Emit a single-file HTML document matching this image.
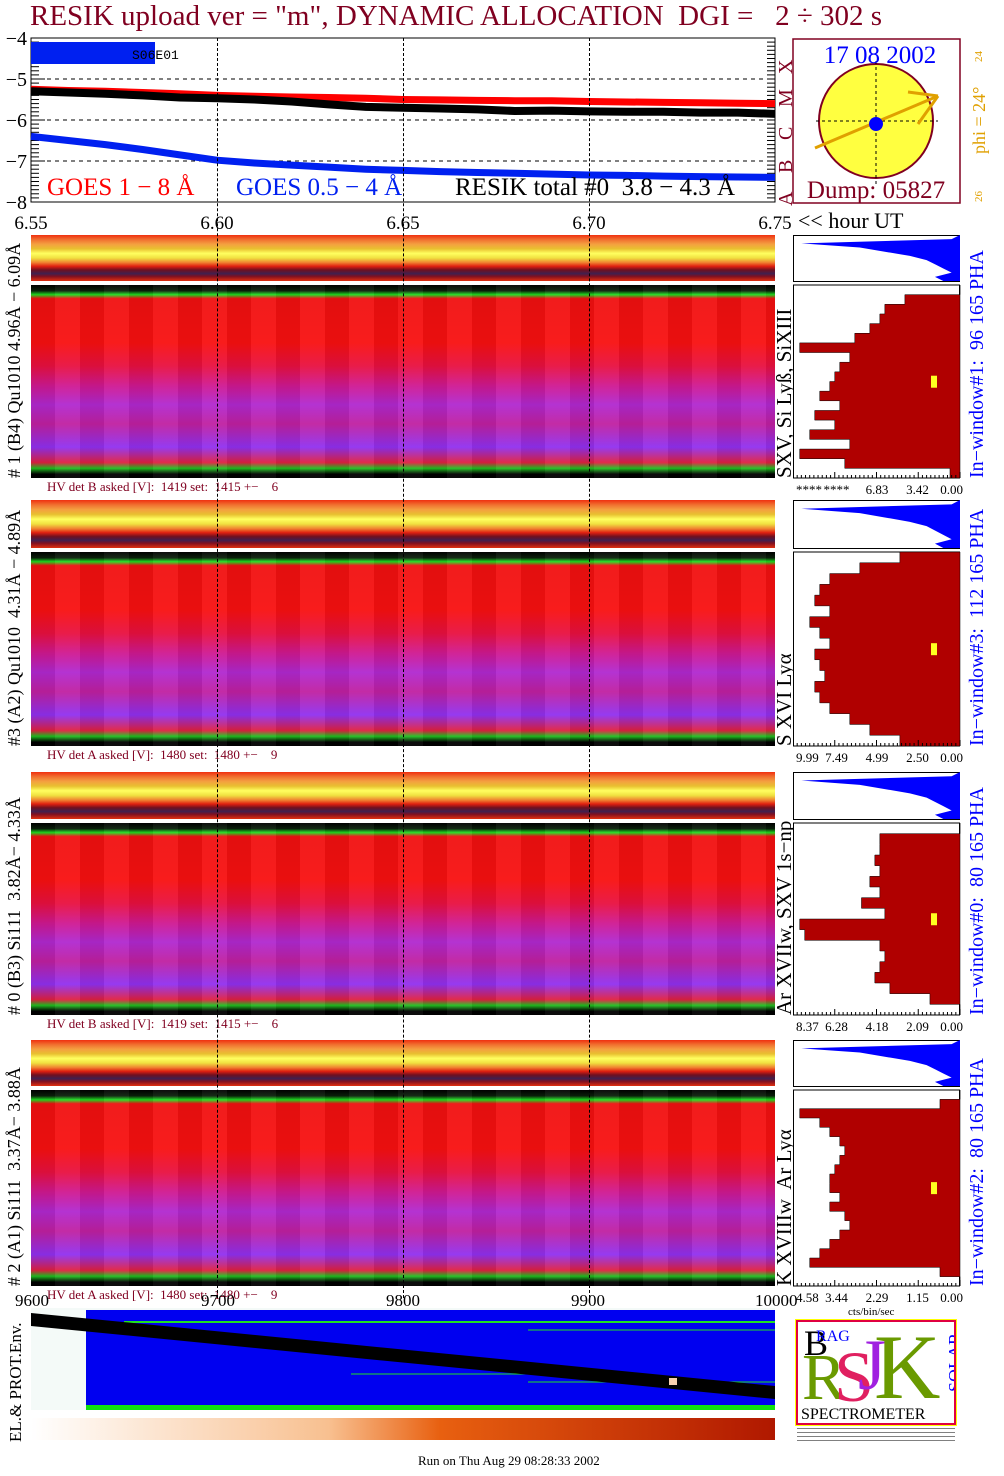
<!DOCTYPE html>
<html><head><meta charset="utf-8">
<style>
body{margin:0;background:#fff;width:1004px;height:1476px;overflow:hidden;position:relative;font-family:"Liberation Serif",serif}
.abs{position:absolute}
.strip{position:absolute;left:31px;width:744px;background:linear-gradient(180deg,#f03010 0%,#f07030 10%,#f4a040 20%,#e8c030 30%,#ffff60 40%,#f0e040 50%,#f08030 60%,#e02010 68%,#701020 76%,#402050 84%,#801020 90%,#e03010 100%)}
.main{position:absolute;left:31px;width:744px;background:linear-gradient(180deg,#000 0%,#0a200a 3%,#20e020 5%,#f01010 7%,#f81010 30%,#e81040 42%,#d01890 52%,#b028d0 62%,#c020a0 72%,#9030f0 84%,#e02040 92%,#20c020 95%,#000 98%,#000 100%)}
.tex{position:absolute;left:0;top:0;right:0;bottom:0;background:repeating-linear-gradient(90deg,rgba(0,0,0,0.06) 0 24px,rgba(255,255,255,0.05) 24px 49px)}
.hv{position:absolute;left:47px;font-size:13px;color:#800020;white-space:pre}
.rot{position:absolute;transform-origin:0 0;transform:rotate(-90deg);white-space:pre}
.vg{position:absolute;width:0;border-left:1px dashed #000;top:38px;height:1260px}
</style></head><body>
<div class="abs" style="left:30px;top:0px;font-size:29px;color:#800020;white-space:nowrap">RESIK upload ver = "m", DYNAMIC ALLOCATION&nbsp; DGI =&nbsp;&nbsp; 2 ÷ 302 s</div>

<svg class="abs" style="left:0;top:30px" width="1004" height="210" id="topsvg"></svg>

<div class="abs" style="left:798px;top:208px;font-size:22px">&lt;&lt; hour UT</div>

<svg class="abs" style="left:790px;top:36px" width="214" height="170">
<rect x="3" y="3" width="167" height="164" fill="#fff" stroke="#800020" stroke-width="1.5"/>
<circle cx="86" cy="85" r="57" fill="#ffff40" stroke="#800020" stroke-width="2"/>
<line x1="26" y1="85" x2="148" y2="85" stroke="#000" stroke-dasharray="3,3"/>
<line x1="86" y1="25" x2="86" y2="150" stroke="#000" stroke-dasharray="3,3"/>
<line x1="25" y1="112" x2="148" y2="60" stroke="#e0a000" stroke-width="3"/>
<line x1="118" y1="56" x2="148" y2="60" stroke="#e0a000" stroke-width="3"/>
<line x1="128" y1="88" x2="148" y2="60" stroke="#e0a000" stroke-width="3"/>
<circle cx="86" cy="88" r="7" fill="#0000ff"/>
<text x="90" y="27" font-size="25" fill="#0000ff" text-anchor="middle" font-family="Liberation Serif">17 08 2002</text>
<text x="86" y="162" font-size="25" fill="#800020" text-anchor="middle" font-family="Liberation Serif">Dump: 05827</text>
<text transform="translate(195,118) rotate(-90)" font-size="18" fill="#e0a000" font-family="Liberation Serif">phi = 24°</text>
<text transform="translate(192,26) rotate(-90)" font-size="11" fill="#e0a000">24</text>
<text transform="translate(192,166) rotate(-90)" font-size="11" fill="#e0a000">26</text>
</svg>

<div id="panels"></div>

<div class="vg" style="left:217px"></div>
<div class="vg" style="left:403px"></div>
<div class="vg" style="left:589px"></div>

<div class="abs" style="left:0;top:1291px;width:790px;height:20px;font-size:17px">
<span class="abs" style="left:15px">9600</span><span class="abs" style="left:201px">9700</span><span class="abs" style="left:386px">9800</span><span class="abs" style="left:571px">9900</span><span class="abs" style="left:755px">10000</span></div>
<svg class="abs" style="left:31px;top:1308px" width="744" height="135">
<rect x="0" y="0" width="744" height="102" fill="#f4faf8"/>
<rect x="55" y="2" width="689" height="95" fill="#0000f0"/>
<rect x="55" y="97" width="689" height="5" fill="#10e010"/>
<line x1="93" y1="14" x2="744" y2="14" stroke="#20e020" stroke-width="2"/>
<line x1="497" y1="22" x2="744" y2="22" stroke="#20e020"/>
<line x1="320" y1="66" x2="520" y2="66" stroke="#20e020"/>
<line x1="497" y1="74" x2="744" y2="74" stroke="#20e020"/>
<polygon points="0,5 744,78 744,91 0,18" fill="#000"/>
<rect x="638" y="70" width="8" height="7" fill="#f8d0b0"/>
<defs><linearGradient id="hg"><stop offset="0" stop-color="#fff"/><stop offset="0.4" stop-color="#f8c090"/><stop offset="0.55" stop-color="#e86010"/><stop offset="1" stop-color="#b01800"/></linearGradient></defs>
<rect x="0" y="110" width="744" height="22" fill="url(#hg)"/>
</svg>
<div class="rot" style="left:6px;top:1442px;font-size:17px">EL.&amp; PROT.Env.</div>

<div class="abs" style="left:796px;top:1320px;width:160px;height:105px;border:2px solid #e00040;outline:1px solid #ff0;box-sizing:border-box;background:#fff;overflow:hidden">
<span class="abs" style="left:6px;top:0px;font-size:36px;color:#000">B</span>
<span class="abs" style="left:18px;top:6px;font-size:16px;color:#00f">RAG</span>
<span class="abs" style="left:4px;top:18px;font-size:66px;color:#6a9a00">R</span>
<span class="abs" style="left:36px;top:14px;font-size:72px;color:#e02060">S</span>
<span class="abs" style="left:60px;top:2px;font-size:72px;color:#a020e0">J</span>
<span class="abs" style="left:76px;top:-8px;font-size:92px;color:#6a9a00">K</span>
<span class="abs" style="left:128px;top:30px;font-size:18px;color:#00f;transform:rotate(-90deg)">SOLAR</span>
<span class="abs" style="left:3px;top:84px;font-size:16px;color:#000">SPECTROMETER</span>
</div>
<div class="abs" style="left:797px;top:1428px;width:158px;height:14px;background:repeating-linear-gradient(180deg,#000 0 1px,#fff 1px 4px);opacity:0.5"></div>
<div class="abs" style="left:848px;top:1306px;font-size:11px">cts/bin/sec</div>
<div class="abs" style="left:418px;top:1453px;font-size:13px">Run on Thu Aug 29 08:28:33 2002</div>

<script>
const timeHours=[6.55,6.56,6.57,6.58,6.59,6.60,6.61,6.62,6.63,6.64,6.65,6.66,6.67,6.68,6.69,6.70,6.71,6.72,6.73,6.74,6.75];
const goesLong=[-5.25,-5.28,-5.3,-5.33,-5.36,-5.4,-5.42,-5.44,-5.45,-5.47,-5.5,-5.51,-5.52,-5.53,-5.53,-5.55,-5.56,-5.57,-5.58,-5.59,-5.6];
const goesShort=[-6.4,-6.5,-6.6,-6.72,-6.85,-6.98,-7.05,-7.1,-7.15,-7.2,-7.23,-7.26,-7.28,-7.3,-7.32,-7.34,-7.35,-7.37,-7.38,-7.39,-7.4];
const resikTotal=[-5.3,-5.33,-5.36,-5.4,-5.45,-5.47,-5.5,-5.55,-5.62,-5.68,-5.7,-5.72,-5.74,-5.78,-5.77,-5.79,-5.8,-5.8,-5.82,-5.82,-5.85];
const yTicks=[-4,-5,-6,-7,-8];
const xTicks=[6.55,6.60,6.65,6.70,6.75];
const hist1=[0.0,0.33,0.45,0.48,0.54,0.63,0.96,0.66,0.72,0.75,0.78,0.84,0.72,0.87,0.75,0.9,0.66,0.96,0.69,0.06];
const hist2=[0.36,0.6,0.78,0.84,0.87,0.78,0.9,0.84,0.78,0.87,0.84,0.81,0.87,0.84,0.78,0.66,0.54,0.36];
const hist3=[0.0,0.48,0.48,0.51,0.48,0.54,0.48,0.59,0.45,0.96,0.93,0.48,0.45,0.48,0.51,0.42,0.18,0.0];
const hist4=[0.0,0.12,0.96,0.84,0.78,0.72,0.69,0.72,0.75,0.78,0.78,0.72,0.78,0.69,0.66,0.72,0.78,0.84,0.9,0.12,0.0];
const pha=[0.0,0.05,0.95,0.6,0.45,0.3,0.2,0.15,0.1,0.05,0.15,0.1];

const xS=t=>31+(t-6.55)*3720;
const yS=v=>8+(-4-v)*41;
const ns='http://www.w3.org/2000/svg';
const topSvg=document.getElementById('topsvg');
function mk(tag,at,par){const e=document.createElementNS(ns,tag);for(const k in at)e.setAttribute(k,at[k]);(par||topSvg).appendChild(e);return e;}
let fr=mk('rect',{x:31,y:8,width:744,height:164,fill:'#fff',stroke:'#000'});


yTicks.forEach(v=>{
  if(v>-8&&v<-4){const g=mk('line',{x1:31,x2:775,y1:yS(v),y2:yS(v),stroke:'#000','stroke-dasharray':'4,4'});}
  const t=mk('text',{x:27,y:yS(v)+7,'font-size':20,'text-anchor':'end','font-family':'Liberation Serif'});t.textContent='\u2212'+Math.abs(v);
  
  
});
for(let i=0;i<=40;i++){const v=-4-i*0.1;mk('line',{x1:31,x2:i%10?39:45,y1:yS(v),y2:yS(v),stroke:'#000'});mk('line',{x1:767,x2:775,y1:yS(v),y2:yS(v),stroke:'#000'});}
xTicks.forEach(t=>{const e=mk('text',{x:xS(t),y:199,'font-size':19,'text-anchor':'middle','font-family':'Liberation Serif'});e.textContent=t.toFixed(2);
  
  });
let b=mk('rect',{x:31,y:12,width:124,height:22,fill:'#0020f0'});


let rl=mk('text',{x:132,y:29,'font-size':13,'font-family':'Liberation Mono'});rl.textContent='S06E01';


function series(arr,col,w,name){const p=mk('polyline',{points:arr.map((v,i)=>xS(timeHours[i])+','+yS(v)).join(' '),fill:'none',stroke:col,'stroke-width':w});
  
  }
series(goesLong,'#ff0000',7,'goes-long-line');
series(goesShort,'#0020f0',7,'goes-short-line');
series(resikTotal,'#000',8,'resik-total-line');
[['GOES 1 \u2212 8 \u00c5','#ff0000',47],['GOES 0.5 \u2212 4 \u00c5','#0020f0',236],['RESIK total #0  3.8 \u2212 4.3 \u00c5','#000',455]].forEach(([s,c,x])=>{
  const t=mk('text',{x:x,y:165,'font-size':25,fill:c,'font-family':'Liberation Serif'});t.style.whiteSpace='pre';t.textContent=s;
  
  });
['A','B','C','M','X'].forEach((l,i)=>{const t=mk('text',{transform:`translate(792,${176-i*33}) rotate(-90)`,'font-size':20,fill:'#800020','font-family':'Liberation Serif'});t.textContent=l;
  
  });

const panels=[
 {s:235,m:285,me:478,hv:'HV det B asked [V]:  1419 set:  1415 +\u2212    6',left:'# 1 (B4) Qu1010 4.96\u00c5 \u2212 6.09\u00c5',line:'SXV, Si Ly\u00df, SiXIII',win:'In\u2212window#1:  96 165 PHA',ticks:['****','****','6.83','3.42','0.00'],h:hist1},
 {s:500,m:552,me:746,hv:'HV det A asked [V]:  1480 set:  1480 +\u2212    9',left:'#3 (A2) Qu1010  4.31\u00c5 \u2212 4.89\u00c5',line:'S XVI Ly\u03b1',win:'In\u2212window#3:  112 165 PHA',ticks:['9.99','7.49','4.99','2.50','0.00'],h:hist2},
 {s:772,m:823,me:1015,hv:'HV det B asked [V]:  1419 set:  1415 +\u2212    6',left:'# 0 (B3) Si111  3.82\u00c5\u2212 4.33\u00c5',line:'Ar XVIIw, SXV 1s\u2212np',win:'In\u2212window#0:  80 165 PHA',ticks:['8.37','6.28','4.18','2.09','0.00'],h:hist3},
 {s:1040,m:1090,me:1286,hv:'HV det A asked [V]:  1480 set:  1480 +\u2212    9',left:'# 2 (A1) Si111  3.37\u00c5\u2212 3.88\u00c5',line:'K XVIIIw  Ar Ly\u03b1',win:'In\u2212window#2:  80 165 PHA',ticks:['4.58','3.44','2.29','1.15','0.00'],h:hist4}
];
const host=document.getElementById('panels');
panels.forEach((p,i)=>{
  const st=document.createElement('div');st.className='strip';st.style.top=p.s+'px';st.style.height=(p.m-p.s-4)+'px';
  
  
  host.appendChild(st);
  const m=document.createElement('div');m.className='main';m.style.top=p.m+'px';m.style.height=(p.me-p.m)+'px';m.innerHTML='<div class="tex"></div>';
  
  
  host.appendChild(m);
  const hv=document.createElement('div');hv.className='hv';hv.style.top=(p.me+1)+'px';hv.textContent=p.hv;
  
  
  host.appendChild(hv);
  const l=document.createElement('div');l.className='rot';l.style.left='4px';l.style.top=p.me+'px';l.style.fontSize='18px';l.textContent=p.left;
  
  
  host.appendChild(l);
  const ln=document.createElement('div');ln.className='rot';ln.style.left='772px';ln.style.top=p.me+'px';ln.style.fontSize='21px';ln.textContent=p.line;
  
  
  host.appendChild(ln);
  const w=document.createElement('div');w.className='rot';w.style.left='966px';w.style.top=p.me+'px';w.style.fontSize='20px';w.style.color='#0000ff';w.textContent=p.win;
  
  
  host.appendChild(w);
  const sv=document.createElementNS(ns,'svg');sv.setAttribute('width',172);sv.setAttribute('height',p.me-p.s+20);
  sv.style.position='absolute';sv.style.left='793px';sv.style.top=p.s+'px';
  
  
  host.appendChild(sv);
  const W=167,sh=p.m-p.s-4,bh=p.me-p.m;
  mk('rect',{x:0.5,y:0.5,width:W-1,height:sh,fill:'#fff',stroke:'#000'},sv);
  let pts=[W+','+0];pha.forEach((v,k)=>{const y=k*sh/(pha.length-1);pts.push((W-v*W)+','+y);});pts.push(W+','+sh);
  const bp=mk('polygon',{points:pts.join(' '),fill:'#0000ff'},sv);
  
  
  const by=p.m-p.s;
  mk('rect',{x:0.5,y:by,width:W-1,height:bh,fill:'#fff',stroke:'#000'},sv);
  let q=[W+','+by];p.h.forEach((v,k)=>{const y0=by+k*bh/p.h.length,y1=by+(k+1)*bh/p.h.length;q.push((W-v*W)+','+y0);q.push((W-v*W)+','+y1);});q.push(W+','+(by+bh));
  const hp=mk('polygon',{points:q.join(' '),fill:'#b00000',stroke:'#000','stroke-width':0.5},sv);
  
  
  for(let k=0;k<=40;k++){mk('line',{x1:k*W/40,x2:k*W/40,y1:by+bh,y2:by+bh-(k%10?3:6),stroke:'#000'},sv);}
  mk('rect',{x:138,y:by+bh*0.47,width:6,height:12,fill:'#ffff20'},sv);
  p.ticks.forEach((t,k)=>{const e=mk('text',{x:3+k*40.5,y:by+bh+16,'font-size':13,'text-anchor':k==0?'start':'middle','font-family':'Liberation Serif'},sv);if(k==4){e.setAttribute('text-anchor','end');e.setAttribute('x',170);}e.textContent=t;
    
    });
});
</script>
</body></html>
